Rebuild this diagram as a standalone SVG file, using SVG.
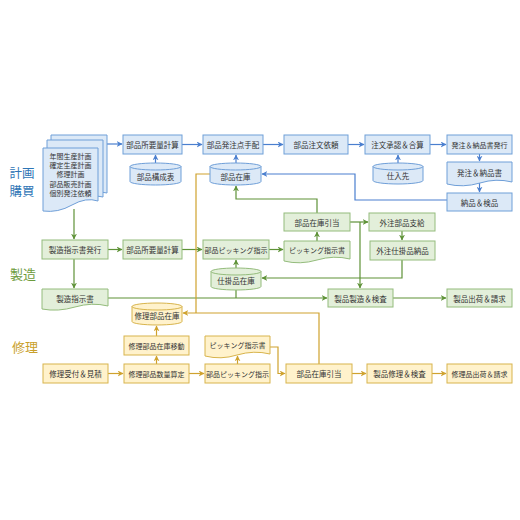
<svg xmlns="http://www.w3.org/2000/svg" width="520" height="520" viewBox="0 0 520 520">
<style>
text{font-family:"Noto Sans CJK JP","Noto Sans",sans-serif;font-size:7.5px;fill:#333;text-anchor:middle;dominant-baseline:central}
.sm{font-size:7px}
.st{font-size:7px}
.b{fill:#dce9f7;stroke:#6f9fd8;stroke-width:1}
.g{fill:#e3efda;stroke:#94bc7c;stroke-width:1}
.y{fill:#fff2cc;stroke:#d8b44c;stroke-width:1}
.lb{fill:none;stroke:#4a7fcf;stroke-width:1.2;marker-end:url(#ab)}
.lg{fill:none;stroke:#5e9237;stroke-width:1.2;marker-end:url(#ag)}
.ly{fill:none;stroke:#cfa22e;stroke-width:1.2;marker-end:url(#ay)}
.lgn{fill:none;stroke:#5e9237;stroke-width:1.2}
.lyn{fill:none;stroke:#cfa22e;stroke-width:1.2}
.sec{font-size:13px;text-anchor:middle}
.sec2{font-size:12.5px;text-anchor:middle}
</style>
<defs>
<marker id="ab" viewBox="0 0 10 10" refX="9" refY="5" markerWidth="6" markerHeight="6" markerUnits="userSpaceOnUse" orient="auto"><path d="M0,0 L10,5 L0,10 L3,5 z" fill="#4a7fcf"/></marker>
<marker id="ag" viewBox="0 0 10 10" refX="9" refY="5" markerWidth="6" markerHeight="6" markerUnits="userSpaceOnUse" orient="auto"><path d="M0,0 L10,5 L0,10 L3,5 z" fill="#5e9237"/></marker>
<marker id="ay" viewBox="0 0 10 10" refX="9" refY="5" markerWidth="6" markerHeight="6" markerUnits="userSpaceOnUse" orient="auto"><path d="M0,0 L10,5 L0,10 L3,5 z" fill="#cfa22e"/></marker>
</defs>
<rect width="520" height="520" fill="#ffffff"/>

<!-- section labels -->
<text class="sec2" x="22" y="172" style="fill:#2e75b6">計画</text>
<text class="sec2" x="22" y="190.5" style="fill:#2e75b6">購買</text>
<text class="sec" x="23" y="273" style="fill:#6d9b3c">製造</text>
<text class="sec" x="25" y="346" style="fill:#c9a02a">修理</text>

<!-- connectors -->
<g id="connectors">
<!-- blue -->
<path class="lb" d="M107,144 H122"/>
<path class="lb" d="M182,144.5 H202"/>
<path class="lb" d="M263,144.5 H283"/>
<path class="lb" d="M348,144.5 H364"/>
<path class="lb" d="M430,144.5 H446"/>
<path class="lb" d="M479.5,154 V161"/>
<path class="lb" d="M479.5,183 V192"/>
<path class="lb" d="M155.5,163 V155"/>
<path class="lb" d="M236,163 V155"/>
<path class="lb" d="M398,163 V155"/>
<path class="lb" d="M447,200 H355 V174 H262"/>
<!-- green -->
<path class="lg" d="M74,209 V239"/>
<path class="lg" d="M108,249.5 H122"/>
<path class="lg" d="M182,249.5 H202"/>
<path class="lg" d="M269,249.5 H283"/>
<path class="lg" d="M317,242 V232"/>
<path class="lg" d="M317,213 V199 H236 V186"/>
<path class="lg" d="M350,222 H368"/>
<path class="lg" d="M360,222 V288"/>
<path class="lg" d="M402,231 V240"/>
<path class="lg" d="M402,260 V278 H262"/>
<path class="lg" d="M236,268 V260"/>
<path class="lg" d="M74,259 V288"/>
<path class="lg" d="M108,298 H327"/>
<path class="lgn" d="M236,290 V298"/>
<path class="lg" d="M393,298 H446"/>
<!-- yellow -->
<path class="ly" d="M108,373.5 H123"/>
<path class="ly" d="M189,373.5 H204"/>
<path class="ly" d="M352,373.5 H366"/>
<path class="ly" d="M432,373.5 H446"/>
<path class="ly" d="M156.5,364 V356"/>
<path class="ly" d="M156.5,336 V326"/>
<path class="ly" d="M237.5,364 V356"/>
<path class="ly" d="M270,347 H278 V373.5 H285"/>
<path class="ly" d="M319,364 V313 H183"/>
<path class="lyn" d="M210,174 H196 V313"/>
</g>

<!-- plan / purchase -->
<g id="doc-stack">
<path class="b" d="M51,135 H107 V193 Q95,190 80,195 Q66,199 51,196 Z"/>
<path class="b" d="M47,140 H103 V197 Q91,194 76,199 Q62,203 47,200 Z"/>
<path class="b" d="M43,148 H98 V201 Q86,197 72,205 Q58,213 43,211 Z"/>
<text class="st" x="70.5" y="156">年間生産計画</text>
<text class="st" x="70.5" y="165.2">確定生産計画</text>
<text class="st" x="70.5" y="174.4">修理計画</text>
<text class="st" x="70.5" y="183.6">部品販売計画</text>
<text class="st" x="70.5" y="192.8">個別発注依頼</text>
</g>
<g id="b1"><rect class="b" x="123" y="135" width="59" height="19"/><text x="152.5" y="144.5">部品所要量計算</text></g>
<g id="b2"><rect class="b" x="203" y="135" width="60" height="19"/><text x="233" y="144.5">部品発注点手配</text></g>
<g id="b3"><rect class="b" x="284" y="135" width="64" height="19"/><text x="316" y="144.5">部品注文依頼</text></g>
<g id="b4"><rect class="b" x="365" y="135" width="65" height="19"/><text x="397.5" y="144.5">注文承認＆合算</text></g>
<g id="b5"><rect class="b" x="447" y="135" width="65" height="19"/><text class="sm" x="479.5" y="144.5">発注＆納品書発行</text></g>
<g id="b6"><path class="b" d="M447,162 H512 V182 Q496,178 480,183 Q463,188 447,184 Z"/><text x="479.5" y="172">発注＆納品書</text></g>
<g id="b7"><rect class="b" x="447" y="193" width="65" height="18"/><text x="479.5" y="202">納品＆検品</text></g>
<g id="c1"><path class="b" d="M130,166.5 A25.5,3.5 0 0 1 181,166.5 V181.5 A25.5,3.5 0 0 1 130,181.5 Z"/><path class="b" style="fill:none" d="M130,166.5 A25.5,3.5 0 0 0 181,166.5"/><text x="155.5" y="176">部品構成表</text></g>
<g id="c2"><path class="b" d="M210,166.5 A25.5,3.5 0 0 1 261,166.5 V181.5 A25.5,3.5 0 0 1 210,181.5 Z"/><path class="b" style="fill:none" d="M210,166.5 A25.5,3.5 0 0 0 261,166.5"/><text x="235.5" y="176">部品在庫</text></g>
<g id="c3"><path class="b" d="M373,166.5 A25,3.5 0 0 1 423,166.5 V180.5 A25,3.5 0 0 1 373,180.5 Z"/><path class="b" style="fill:none" d="M373,166.5 A25,3.5 0 0 0 423,166.5"/><text x="398" y="175.5">仕入先</text></g>

<!-- manufacturing -->
<g id="g1"><rect class="g" x="42" y="240" width="66" height="19"/><text x="75" y="249.5">製造指示書発行</text></g>
<g id="g2"><rect class="g" x="123" y="240" width="59" height="19"/><text x="152.5" y="249.5">部品所要量計算</text></g>
<g id="g3"><rect class="g" x="203" y="240" width="66" height="19"/><text class="sm" x="236" y="249.5">部品ピッキング指示</text></g>
<g id="g4"><path class="g" d="M284,241 H350 V259 Q334,255 317,260 Q300,265 284,261 Z"/><text class="sm" x="317" y="250">ピッキング指示書</text></g>
<g id="g5"><rect class="g" x="284" y="213" width="66" height="18"/><text x="317" y="222">部品在庫引当</text></g>
<g id="g6"><rect class="g" x="369" y="213" width="66" height="18"/><text x="402" y="222">外注部品支給</text></g>
<g id="g7"><rect class="g" x="370" y="241" width="65" height="19"/><text x="402.5" y="250.5">外注仕掛品納品</text></g>
<g id="g8"><path class="g" d="M42,289 H108 V306 Q92,302 75,307 Q58,312 42,309 Z"/><text x="75" y="298">製造指示書</text></g>
<g id="c4"><path class="g" d="M211,271.5 A25,3.5 0 0 1 261,271.5 V286.5 A25,3.5 0 0 1 211,286.5 Z"/><path class="g" style="fill:none" d="M211,271.5 A25,3.5 0 0 0 261,271.5"/><text x="236" y="280.5">仕掛品在庫</text></g>
<g id="g9"><rect class="g" x="328" y="289" width="65" height="18"/><text x="360.5" y="298">製品製造＆検査</text></g>
<g id="g10"><rect class="g" x="447" y="289" width="65" height="18"/><text x="479.5" y="298">製品出荷＆請求</text></g>

<!-- repair -->
<g id="y1"><rect class="y" x="43" y="364" width="65" height="19"/><text x="75.5" y="373.5">修理受付＆見積</text></g>
<g id="y2"><rect class="y" x="124" y="364" width="65" height="19"/><text class="sm" x="156.5" y="373.5">修理部品数量算定</text></g>
<g id="y3"><rect class="y" x="124" y="336" width="65" height="19"/><text class="sm" x="156.5" y="345.5">修理部品在庫移動</text></g>
<g id="c5"><path class="y" d="M132,306.5 A25,3.5 0 0 1 182,306.5 V321.5 A25,3.5 0 0 1 132,321.5 Z"/><path class="y" style="fill:none" d="M132,306.5 A25,3.5 0 0 0 182,306.5"/><text x="157" y="315.5">修理部品在庫</text></g>
<g id="y4"><rect class="y" x="205" y="364" width="65" height="19"/><text class="sm" x="237.5" y="373.5">部品ピッキング指示</text></g>
<g id="y5"><path class="y" d="M205,336 H270 V354 Q254,350 237,355 Q221,360 205,356 Z"/><text class="sm" x="237.5" y="345">ピッキング指示書</text></g>
<g id="y6"><rect class="y" x="286" y="364" width="66" height="19"/><text x="319" y="373.5">部品在庫引当</text></g>
<g id="y7"><rect class="y" x="367" y="364" width="65" height="19"/><text x="399.5" y="373.5">製品修理＆検査</text></g>
<g id="y8"><rect class="y" x="447" y="364" width="65" height="19"/><text class="sm" x="479.5" y="373.5">修理品出荷＆請求</text></g>
</svg>
